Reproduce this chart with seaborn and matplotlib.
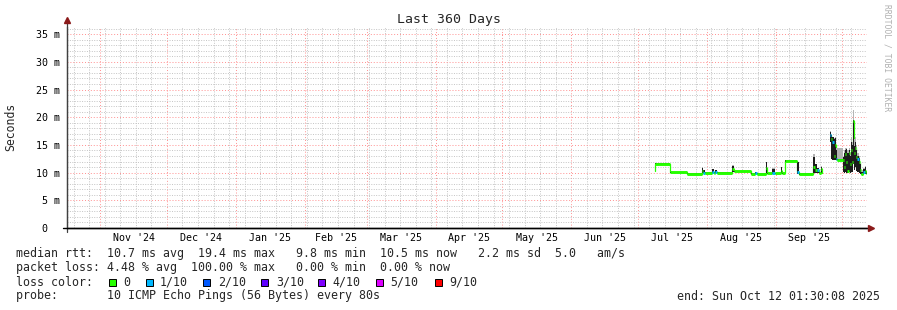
import matplotlib
matplotlib.use("Agg")
import matplotlib.pyplot as plt
import matplotlib.dates as mdates
from matplotlib.patches import Rectangle
from matplotlib.transforms import blended_transform_factory
import numpy as np
import pandas as pd
import seaborn as sns

# ---------------- data ----------------
times = [
    "2025-07-08 12:00", "2025-07-08 20:00", "2025-07-15 10:00", "2025-07-23 00:00",
    "2025-07-29 18:00", "2025-07-30 06:00", "2025-07-31 06:00", "2025-08-03 12:00",
    "2025-08-04 06:00", "2025-08-04 18:00", "2025-08-05 18:00", "2025-08-12 12:00",
    "2025-08-13 06:00", "2025-08-21 00:00", "2025-08-22 12:00", "2025-08-23 12:00",
    "2025-08-27 12:00", "2025-08-28 00:00", "2025-08-30 12:00", "2025-08-31 12:00",
    "2025-09-03 12:00", "2025-09-04 00:00", "2025-09-05 00:00", "2025-09-10 12:00",
    "2025-09-11 12:00", "2025-09-17 18:00", "2025-09-18 12:00", "2025-09-19 12:00",
    "2025-09-20 12:00", "2025-09-21 06:00", "2025-09-21 18:00",
    "2025-09-25 12:00", "2025-09-26 00:00", "2025-09-26 12:00", "2025-09-27 00:00",
    "2025-09-27 12:00", "2025-09-28 00:00", "2025-09-28 18:00", "2025-10-01 06:00",
    "2025-10-01 18:00", "2025-10-02 06:00", "2025-10-02 18:00", "2025-10-03 06:00",
    "2025-10-03 18:00", "2025-10-04 06:00", "2025-10-04 18:00", "2025-10-05 06:00",
    "2025-10-05 18:00", "2025-10-06 06:00", "2025-10-06 18:00", "2025-10-07 06:00",
    "2025-10-07 18:00", "2025-10-08 12:00", "2025-10-08 18:00", "2025-10-09 12:00",
    "2025-10-10 06:00", "2025-10-11 00:00", "2025-10-11 06:00", "2025-10-11 18:00",
    "2025-10-12 01:00",
]
segment = [0] * 31 + [1] * 29
median_ms = [
    10.3, 11.6, 10.05, 9.8, 10.3, 10.0, 10.0, 10.1, 10.0, 10.1, 10.0, 10.6,
    10.25, 9.8, 9.9, 9.8, 10.8, 9.85, 10.0, 9.85, 10.3, 9.9, 12.1, 10.2,
    9.75, 11.0, 10.5, 10.5, 10.0, 10.6, 10.0,
    16.8, 16.0, 15.5, 13.0, 15.0, 12.5, 12.3, 12.2, 11.0, 13.3, 12.0, 10.3,
    13.5, 11.5, 14.0, 12.0, 19.3, 13.5, 14.5, 12.8, 12.5, 12.0, 10.4, 9.8,
    10.2, 9.9, 10.3, 9.9, 9.9,
]
smoke_low_ms = [
    10.2, 11.5, 9.95, 9.7, 9.9, 9.9, 9.9, 9.9, 9.9, 9.9, 9.9, 10.1,
    10.15, 9.7, 9.8, 9.7, 9.9, 9.75, 9.8, 9.75, 9.9, 9.8, 11.9, 9.8,
    9.65, 9.9, 9.9, 10.0, 9.9, 10.0, 10.0,
    15.5, 12.4, 12.3, 12.2, 12.3, 12.2, 12.2, 10.2, 10.0, 10.1, 10.0, 10.0,
    10.1, 10.0, 10.2, 10.1, 11.5, 10.5, 11.0, 10.3, 10.2, 10.0, 9.8, 9.7,
    9.8, 9.7, 9.8, 9.7, 9.7,
]
smoke_high_ms = [
    10.9, 11.7, 10.15, 9.9, 10.9, 10.4, 10.1, 10.6, 10.1, 10.5, 10.1, 11.2,
    10.35, 9.9, 10.2, 9.9, 11.9, 9.95, 10.7, 9.95, 11.0, 10.0, 12.2, 12.0,
    9.85, 12.9, 11.5, 10.8, 10.1, 11.1, 10.1,
    17.4, 16.8, 16.5, 16.0, 16.2, 14.0, 12.5, 12.8, 13.5, 14.0, 14.2, 13.6,
    14.1, 13.0, 15.5, 15.0, 19.5, 14.8, 15.5, 14.0, 13.0, 12.6, 11.5, 10.2,
    10.6, 10.1, 11.0, 10.1, 10.1,
]
smoke_peak_ms = [
    10.9, 11.7, 10.15, 9.9, 11.0, 10.4, 10.1, 10.6, 10.1, 10.5, 10.1, 11.3,
    10.35, 9.9, 10.2, 9.9, 12.0, 9.95, 10.8, 9.95, 11.1, 10.0, 12.3, 12.0,
    9.85, 13.3, 11.5, 10.8, 10.1, 11.2, 10.1,
    17.5, 16.9, 16.5, 16.2, 16.4, 14.4, 14.4, 12.8, 14.0, 14.5, 14.4, 14.0,
    14.4, 13.5, 16.5, 15.5, 21.3, 16.0, 16.5, 15.0, 13.5, 13.0, 12.0, 10.4,
    10.8, 10.2, 11.2, 10.1, 10.1,
]
loss_level = [
    0, 0, 0, 0, 0, 1, 0, 1, 0, 1, 0, 0,
    0, 0, 1, 0, 0, 0, 1, 0, 0, 0, 0, 1,
    0, 0, 0, 1, 0, 0, 0,
    1, 0, 1, 0, 0, 1, 0, 0, 0, 0, 0, 0,
    0, 0, 0, 0, 0, 0, 0, 0, 1, 0, 0, 0,
    1, 0, 0, 0, 0,
]

y_ticks = [0, 5, 10, 15, 20, 25, 30, 35]
y_tick_labels = ["0  ", "5 m", "10 m", "15 m", "20 m", "25 m", "30 m", "35 m"]
month_labels = ["Nov '24", "Dec '24", "Jan '25", "Feb '25", "Mar '25", "Apr '25",
                "May '25", "Jun '25", "Jul '25", "Aug '25", "Sep '25"]
loss_names = ["0", "1/10", "2/10", "3/10", "4/10", "5/10", "9/10"]
loss_colors = ["#26ff00", "#00b8ff", "#0059ff", "#5e00ff", "#7e00ff", "#dd00ff", "#ff0000"]

title = "Last 360 Days"
end_time = pd.Timestamp("2025-10-12 01:30:08")
start_time = end_time - pd.Timedelta(days=360)

# ---------------- style ----------------
sns.set_theme(style="white")
plt.rcParams["font.family"] = ["DejaVu Sans Mono", "DejaVu Sans"]
MONO = ["DejaVu Sans Mono", "DejaVu Sans"]

W, H = 897, 310
fig = plt.figure(figsize=(W / 100, H / 100), dpi=100, facecolor="white")
ax = fig.add_axes([67 / W, 1 - 228 / H, 800 / W, 201 / H])
ax.set_facecolor("white")

df = pd.DataFrame({
    "time": pd.to_datetime(times),
    "median": median_ms,
    "low": smoke_low_ms,
    "high": smoke_high_ms,
    "peak": smoke_peak_ms,
    "loss": loss_level,
    "segment": segment,
})

# median line (thin step line incl. vertical connectors)
sns.lineplot(data=df, x="time", y="median", units="segment", estimator=None,
             drawstyle="steps-post", color=loss_colors[0], lw=0.9,
             ax=ax, legend=False, zorder=2)

# smoke
for seg, g in df.groupby("segment"):
    ax.fill_between(g["time"], g["high"], g["peak"], step="post",
                    color="#b4b4b4", lw=0, zorder=3)
    ax.fill_between(g["time"], g["low"], g["high"], step="post",
                    color="#1c1c1c", lw=0, zorder=3)

# thick horizontal median pieces, coloured by loss
tnum = mdates.date2num(df["time"])
for i in range(len(df) - 1):
    if df["segment"].iat[i] == df["segment"].iat[i + 1]:
        ax.hlines(df["median"].iat[i], tnum[i], tnum[i + 1],
                  colors=loss_colors[df["loss"].iat[i]], lw=2.1, zorder=5)

# ---------------- axes ----------------
ax.set_xlim(start_time, end_time)
ax.set_ylim(0, 36.3)
ax.set_xlabel("")
ax.set_ylabel("")

month_starts = pd.date_range("2024-11-01", "2025-10-01", freq="MS")
week_starts = pd.date_range("2024-10-20", "2025-10-12", freq="7D")
ax.set_xticks(month_starts)
ax.set_xticklabels([""] * len(month_starts))
ax.set_xticks(week_starts, minor=True)
ax.set_yticks(y_ticks)
ax.set_yticklabels(y_tick_labels, family=MONO, fontsize=7.2)
ax.set_yticks(np.arange(0, 37, 1), minor=True)

ax.grid(which="major", color="#ff9090", lw=0.7, ls=(0, (1, 2)), zorder=1)
ax.grid(which="minor", color="#c4c4c4", lw=0.7, ls=(0, (1, 1.5)), zorder=0.9)
ax.set_axisbelow(True)

ax.tick_params(which="both", direction="out", length=1.8, width=0.7)
ax.tick_params(axis="y", which="major", colors="#ff8080", labelcolor="black", pad=3.6)
ax.tick_params(axis="y", which="minor", colors="#a0a0a0", length=1.2)
ax.tick_params(axis="x", which="major", colors="#ff8080", pad=2)
ax.tick_params(axis="x", which="minor", colors="#a0a0a0", length=1.5)

for s in ["top", "right"]:
    ax.spines[s].set_visible(False)
ax.spines["left"].set_color("#404040")
ax.spines["left"].set_linewidth(0.9)
ax.spines["bottom"].set_color("black")
ax.spines["bottom"].set_linewidth(1.0)

# axis extensions and arrow heads
ax.plot([0, 0], [-0.02, 1.03], transform=ax.transAxes, color="#404040", lw=0.9,
        clip_on=False, zorder=6)
ax.plot([-0.005, 1.0], [0, 0], transform=ax.transAxes, color="black", lw=1.0,
        clip_on=False, zorder=6)
ax.plot([0], [1.035], marker="^", ms=4.2, color="#8b1a1a", transform=ax.transAxes,
        clip_on=False, zorder=7)
ax.plot([1.005], [0], marker=">", ms=4.2, color="#8b1a1a", transform=ax.transAxes,
        clip_on=False, zorder=7)

# month labels centred within each month
bt = blended_transform_factory(ax.transData, ax.transAxes)
for i, lab in enumerate(month_labels):
    m0 = month_starts[i]
    m1 = m0 + pd.offsets.MonthBegin(1)
    mid = m0 + (m1 - m0) / 2
    ax.text(mdates.date2num(mid), -0.05, lab, transform=bt, ha="center", va="center",
            family=MONO, fontsize=7.2, color="black")

# ---------------- texts ----------------
def ftext(x, y, s, **kw):
    kw.setdefault("family", MONO)
    kw.setdefault("fontsize", 8.35)
    kw.setdefault("va", "center")
    kw.setdefault("ha", "left")
    fig.text(x / W, 1 - y / H, s, **kw)

ftext(448.5, 20, title, ha="center", fontsize=9.5)
ftext(11, 127, "Seconds", ha="center", rotation=90, fontsize=8.3)
ftext(887, 58, "RRDTOOL / TOBI OETIKER", ha="center", rotation=270,
      fontsize=5.8, color="#b0b0b0")

ftext(16, 254, "median rtt:  10.7 ms avg  19.4 ms max   9.8 ms min  10.5 ms now   2.2 ms sd  5.0   am/s")
ftext(16, 268, "packet loss: 4.48 % avg  100.00 % max   0.00 % min  0.00 % now")
ftext(16, 282, "loss color:")
sq_x = [109, 146, 203, 261, 318, 376, 435]
lab_x = [123, 160, 218, 276, 332, 390, 449]
for sx, lx, name, col in zip(sq_x, lab_x, loss_names, loss_colors):
    fig.add_artist(Rectangle((sx / W, 1 - 286 / H), 7 / W, 7 / H, transform=fig.transFigure,
                             facecolor=col, edgecolor="black", lw=0.7))
    ftext(lx, 282, name)
ftext(16, 296, "probe:       10 ICMP Echo Pings (56 Bytes) every 80s")
ftext(880, 296, "end: Sun Oct 12 01:30:08 2025", ha="right")

fig.savefig("out.png", dpi=100, facecolor="white")
